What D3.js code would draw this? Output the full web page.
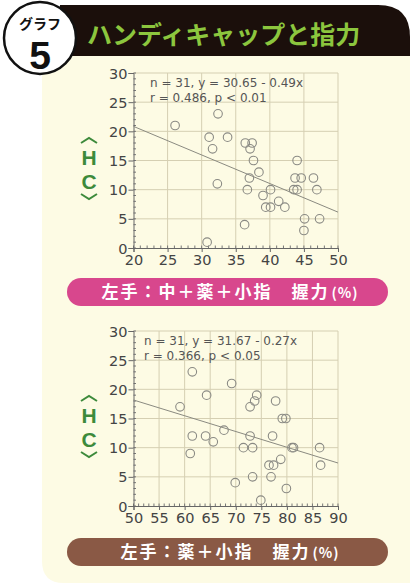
<!DOCTYPE html>
<html>
<head>
<meta charset="utf-8">
<script src="https://cdn.jsdelivr.net/npm/d3@7"></script>
<style>
  body { margin: 0; background: #fff; }
  svg { display: block; }
</style>
</head>
<body>
<svg width="410" height="584"></svg>
<script>
// chart 1: 中+薬+小指 grip (%) vs HC
const grip1 = [26.1, 32.4, 31.1, 33.8, 31.6, 32.3, 30.8, 36.4, 37.4, 37.1, 37.6, 37.0, 38.4, 36.7, 36.3,
  39.0, 40.1, 39.4, 40.1, 41.3, 42.2, 44.0, 43.7, 44.6, 43.5, 44.0, 46.4, 46.9, 45.1, 47.3, 45.0];
const hc1 = [21, 23, 19, 19, 17, 11, 1, 18, 18, 17, 15, 12, 13, 10, 4,
  9, 10, 7, 7, 8, 7, 15, 12, 12, 10, 10, 12, 10, 5, 5, 3];
const fit1 = { a: 30.65, b: -0.49 };
const stats1 = ["n = 31, y = 30.65 - 0.49x", "r = 0.486, p < 0.01"];
const xTicks1 = [20, 25, 30, 35, 40, 45, 50];

// chart 2: 薬+小指 grip (%) vs HC
const grip2 = [61.5, 59.1, 64.3, 69.2, 61.5, 64.1, 65.6, 61.1, 67.7, 71.5, 73.3, 72.8, 72.8, 73.7, 74.1,
  77.8, 77.2, 79.1, 79.8, 81.0, 81.3, 78.8, 76.5, 77.4, 76.9, 73.3, 69.9, 74.9, 79.9, 86.4, 86.6];
const hc2 = [23, 17, 19, 21, 12, 12, 11, 9, 13, 10, 10, 12, 17, 18, 19,
  18, 12, 15, 15, 10, 10, 8, 7, 7, 5, 5, 4, 1, 3, 10, 7];
const fit2 = { a: 31.67, b: -0.27 };
const stats2 = ["n = 31, y = 31.67 - 0.27x", "r = 0.366, p < 0.05"];
const xTicks2 = [50, 55, 60, 65, 70, 75, 80, 85, 90];

const yTicks = [0, 5, 10, 15, 20, 25, 30];
const title = "ハンディキャップと指力";
const xLabel1 = "左手：中＋薬＋小指　握力";
const xLabel2 = "左手：薬＋小指　握力";

const svg = d3.select("svg");
const jp = "'Noto Sans CJK JP', sans-serif";
const latin = "'DejaVu Sans', sans-serif";

// background panel
svg.append("path")
  .attr("d", "M42,50 H410 V583 H64 Q42,583 42,561 Z")
  .attr("fill", "#fdfbe4");

// header bar
svg.append("path")
  .attr("d", "M60,5 H378 Q410,5 410,37 V56 H60 Z")
  .attr("fill", "#1b0f0b");

svg.append("text")
  .attr("x", 87).attr("y", 44)
  .attr("font-family", jp).attr("font-weight", 700)
  .attr("font-size", 25).attr("fill", "#8cc63e")
  .text(title);

// badge
svg.append("circle")
  .attr("cx", 40).attr("cy", 38).attr("r", 36)
  .attr("fill", "#fff").attr("stroke", "#111").attr("stroke-width", 2.5);
svg.append("text")
  .attr("x", 40).attr("y", 29).attr("text-anchor", "middle")
  .attr("font-family", jp).attr("font-weight", 700)
  .attr("font-size", 14).attr("fill", "#111")
  .text("グラフ");
svg.append("text")
  .attr("x", 40).attr("y", 69).attr("text-anchor", "middle")
  .attr("font-family", "'Liberation Sans', Arial, sans-serif").attr("font-weight", 700)
  .attr("font-size", 39).attr("fill", "#111")
  .text("5");

function drawScatter(cfg) {
  const g = svg.append("g");
  const x = d3.scaleLinear().domain(cfg.xDomain).range([133.5, 338]);
  const y = d3.scaleLinear().domain([0, 30]).range([cfg.top + 175, cfg.top]);

  // grid
  g.selectAll(".gx").data(cfg.xTicks.slice(1))
    .enter().append("line")
    .attr("x1", d => x(d)).attr("x2", d => x(d))
    .attr("y1", y(0)).attr("y2", y(30))
    .attr("stroke", "#d5cfb2").attr("stroke-width", 1);
  g.selectAll(".gy").data(yTicks.slice(1))
    .enter().append("line")
    .attr("x1", x(cfg.xDomain[0])).attr("x2", x(cfg.xDomain[1]))
    .attr("y1", d => y(d)).attr("y2", d => y(d))
    .attr("stroke", "#d5cfb2").attr("stroke-width", 1);

  // minor ticks
  const minorX = d3.range(cfg.xDomain[0], cfg.xDomain[1] + 1);
  g.selectAll(".mx").data(minorX)
    .enter().append("line")
    .attr("x1", d => x(d)).attr("x2", d => x(d))
    .attr("y1", y(0)).attr("y2", y(0) - 2.5)
    .attr("stroke", "#777");
  g.selectAll(".my").data(d3.range(0, 31))
    .enter().append("line")
    .attr("x1", x(cfg.xDomain[0])).attr("x2", x(cfg.xDomain[0]) + 2.5)
    .attr("y1", d => y(d)).attr("y2", d => y(d))
    .attr("stroke", "#777");

  const xAxis = d3.axisBottom(x).tickValues(cfg.xTicks).tickSize(4).tickPadding(1);
  const yAxis = d3.axisLeft(y).tickValues(yTicks).tickSize(5).tickPadding(1);

  const gX = g.append("g").attr("transform", `translate(0,${y(0)})`).call(xAxis);
  const gY = g.append("g").attr("transform", `translate(${x(cfg.xDomain[0])},0)`).call(yAxis);
  [gX, gY].forEach(a => {
    a.select(".domain").attr("stroke", "#666");
    a.selectAll(".tick line").attr("stroke", "#666");
    a.selectAll("text")
      .attr("font-family", latin)
      .attr("font-size", 14.5).attr("fill", "#444");
  });
  gX.selectAll("text").attr("dy", "0.8em");
  gY.selectAll("text").attr("dy", "0.35em");

  // regression line
  const fx = cfg.xDomain;
  g.append("line")
    .attr("x1", x(fx[0])).attr("y1", y(cfg.fit.a + cfg.fit.b * fx[0]))
    .attr("x2", x(fx[1])).attr("y2", y(cfg.fit.a + cfg.fit.b * fx[1]))
    .attr("stroke", "#8a8a80").attr("stroke-width", 1);

  // points
  g.selectAll(".pt").data(cfg.xs.map((v, i) => [v, cfg.ys[i]]))
    .enter().append("circle")
    .attr("cx", d => x(d[0])).attr("cy", d => y(d[1]))
    .attr("r", 4.3)
    .attr("fill", "none").attr("stroke", "#8a8a84").attr("stroke-width", 1.1);

  // stats text
  g.selectAll(".st").data(cfg.stats)
    .enter().append("text")
    .attr("x", cfg.statsX).attr("y", (d, i) => cfg.top + 14 + i * 15)
    .attr("font-family", latin)
    .attr("font-size", 12).attr("fill", "#555")
    .text(d => d);

  // HC label
  const lx = 89, ly = cfg.top + 65;
  const lab = g.append("g").attr("fill", "#3d8a3b");
  lab.append("path")
    .attr("d", `M${lx - 8},${ly + 5} L${lx},${ly} L${lx + 8},${ly + 5}`)
    .attr("fill", "none").attr("stroke", "#3d8a3b").attr("stroke-width", 2);
  lab.append("text").attr("x", lx).attr("y", ly + 27).attr("text-anchor", "middle")
    .attr("font-family", "'Liberation Sans', sans-serif").attr("font-weight", 700)
    .attr("font-size", 21).text("H");
  lab.append("text").attr("x", lx).attr("y", ly + 51).attr("text-anchor", "middle")
    .attr("font-family", "'Liberation Sans', sans-serif").attr("font-weight", 700)
    .attr("font-size", 21).text("C");
  lab.append("path")
    .attr("d", `M${lx - 8},${ly + 56} L${lx},${ly + 61} L${lx + 8},${ly + 56}`)
    .attr("fill", "none").attr("stroke", "#3d8a3b").attr("stroke-width", 2);

  // x label pill
  g.append("rect")
    .attr("x", 67).attr("y", cfg.pillY).attr("width", 321).attr("height", 28)
    .attr("rx", 14).attr("fill", cfg.pillColor);
  const t = g.append("text")
    .attr("x", 230).attr("y", cfg.pillY + 20).attr("text-anchor", "middle")
    .attr("font-family", jp).attr("font-weight", 700)
    .attr("font-size", 17).attr("fill", "#fff")
    .attr("letter-spacing", 2);
  t.append("tspan").text(cfg.label);
  t.append("tspan").attr("font-size", 14).attr("letter-spacing", 1).attr("dx", 2).text("(%)");
}

drawScatter({
  xs: grip1, ys: hc1, xDomain: [20, 50], xTicks: xTicks1, fit: fit1, stats: stats1,
  top: 73, statsX: 150, pillY: 278, pillColor: "#d8478d", label: xLabel1
});
drawScatter({
  xs: grip2, ys: hc2, xDomain: [50, 90], xTicks: xTicks2, fit: fit2, stats: stats2,
  top: 331, statsX: 144, pillY: 538, pillColor: "#8a5945", label: xLabel2
});
</script>
</body>
</html>
